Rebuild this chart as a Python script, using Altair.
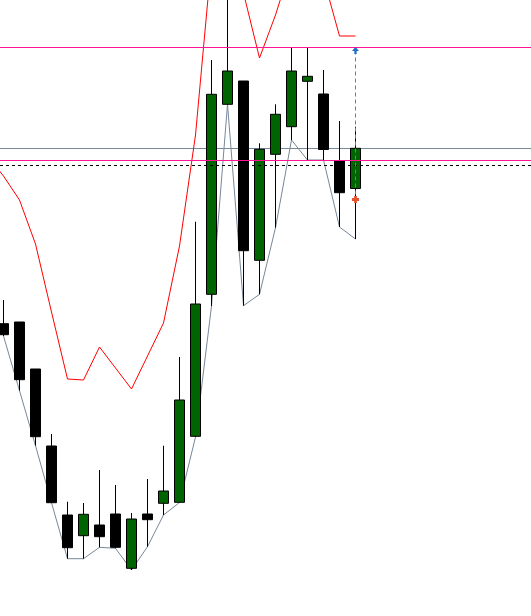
import altair as alt
import pandas as pd

# Candle index (time order)
idx = list(range(23))
opens = [1.32923, 1.32940, 1.32470, 1.31700, 1.31010, 1.30803, 1.30910, 1.31020,
         1.30477, 1.31020, 1.31127, 1.31137, 1.31797, 1.33217, 1.35117, 1.35350,
         1.33557, 1.34617, 1.34893, 1.35347, 1.35220, 1.34550, 1.34275]
highs = [1.33160, 1.32940, 1.32470, 1.31820, 1.31143, 1.31130, 1.31460, 1.31310,
         1.31030, 1.31370, 1.31703, 1.32590, 1.33943, 1.35560, 1.36360, 1.35350,
         1.34727, 1.35117, 1.35683, 1.35683, 1.35460, 1.34950, 1.34893]
lows = [1.32800, 1.32253, 1.31703, 1.31133, 1.30573, 1.30573, 1.30687, 1.30677,
        1.30460, 1.30693, 1.31010, 1.31135, 1.31790, 1.33100, 1.35117, 1.33103,
        1.33217, 1.33883, 1.34760, 1.34560, 1.34560, 1.33890, 1.33770]
closes = [1.32813, 1.32363, 1.31793, 1.31133, 1.30683, 1.31017, 1.30793, 1.30687,
          1.30970, 1.30963, 1.31250, 1.32160, 1.33120, 1.35217, 1.35450, 1.33653,
          1.34667, 1.35017, 1.35450, 1.35397, 1.34665, 1.34233, 1.34677]

# Upper band, starting one bar before the first visible candle
band_idx = list(range(-1, 23))
upper_band = [1.34600,
              1.34400, 1.34160, 1.33720, 1.33040, 1.32370, 1.32360, 1.32690, 1.32480,
              1.32270, 1.32600, 1.32930, 1.33700, 1.34810, 1.36560, 1.36860, 1.36230,
              1.35580, 1.36010, 1.36520, 1.36660, 1.36380, 1.35800, 1.35800]

resistance = 1.35685
bid_level = 1.34675
support = 1.34555
dashed_level = 1.34505
target_index = 22
target_top = 1.35655
target_bottom = 1.34165

df = pd.DataFrame({"i": idx, "open": opens, "high": highs, "low": lows,
                   "close": closes})
df["dir"] = ["up" if c >= o else "down" for o, c in zip(opens, closes)]
band_df = pd.DataFrame({"i": band_idx, "band": upper_band})

xs = alt.Scale(domain=[-0.21875, 32.96875], nice=False, zero=False, padding=0)
ys = alt.Scale(domain=[1.3000, 1.3616], nice=False, zero=False, padding=0)

base = alt.Chart(df)

def hline(value, color, dash=None):
    kw = dict(color=color, strokeWidth=1)
    if dash:
        kw["strokeDash"] = dash
    return alt.Chart(pd.DataFrame({"v": [value]})).mark_rule(**kw).encode(
        y=alt.Y("v:Q", scale=ys, axis=None),
        x=alt.value(0), x2=alt.value(531))

bid_line = hline(bid_level, "#778899")

band_line = alt.Chart(band_df).mark_line(color="#FF0000", strokeWidth=1, clip=True).encode(
    x=alt.X("i:Q", scale=xs, axis=None),
    y=alt.Y("band:Q", scale=ys, axis=None))

low_line = base.mark_line(color="#778899", strokeWidth=1, clip=True).encode(
    x=alt.X("i:Q", scale=xs, axis=None),
    y=alt.Y("low:Q", scale=ys, axis=None))

wicks = base.mark_rule(color="black", strokeWidth=1, clip=True).encode(
    x=alt.X("i:Q", scale=xs, axis=None),
    y=alt.Y("low:Q", scale=ys, axis=None),
    y2="high:Q")

bodies = base.mark_bar(size=10, stroke="black", strokeWidth=1, clip=True).encode(
    x=alt.X("i:Q", scale=xs, axis=None),
    y=alt.Y("open:Q", scale=ys, axis=None),
    y2="close:Q",
    fill=alt.Fill("dir:N", scale=alt.Scale(domain=["up", "down"],
                                           range=["#006400", "#000000"]),
                  legend=None))

res_line = hline(resistance, "#FF1493")
sup_line = hline(support, "#FF1493")
dash_line = hline(dashed_level, "#000000", [3, 3])

tdf = pd.DataFrame({"i": [target_index], "top": [target_top], "bottom": [target_bottom]})
target_rule = alt.Chart(tdf).mark_rule(color="#E4532D", strokeWidth=1,
                                       strokeDash=[4, 3]).encode(
    x=alt.X("i:Q", scale=xs, axis=None),
    y=alt.Y("top:Q", scale=ys, axis=None),
    y2="bottom:Q")

arrow_up = alt.Chart(tdf).mark_point(
    shape="M0,-1L0.9,0.1L0.3,0.1L0.3,0.9L-0.3,0.9L-0.3,0.1L-0.9,0.1Z",
    filled=True, color="#1F6FC5", size=60, opacity=1).encode(
    x=alt.X("i:Q", scale=xs, axis=None),
    y=alt.Y("top:Q", scale=ys, axis=None))

arrow_dn = alt.Chart(tdf).mark_point(
    shape="cross", filled=True, color="#E4532D", size=50, opacity=1).encode(
    x=alt.X("i:Q", scale=xs, axis=None),
    y=alt.Y("bottom:Q", scale=ys, axis=None))

chart = alt.layer(
    bid_line, band_line, low_line, wicks, bodies,
    res_line, sup_line, dash_line, target_rule, arrow_up, arrow_dn
).properties(
    width=531, height=616, padding=0,
    autosize=alt.AutoSizeParams(type="none"),
    background="white"
).configure_view(stroke=None)

chart.save("out.html", embed_options={"renderer": "svg", "actions": False})
